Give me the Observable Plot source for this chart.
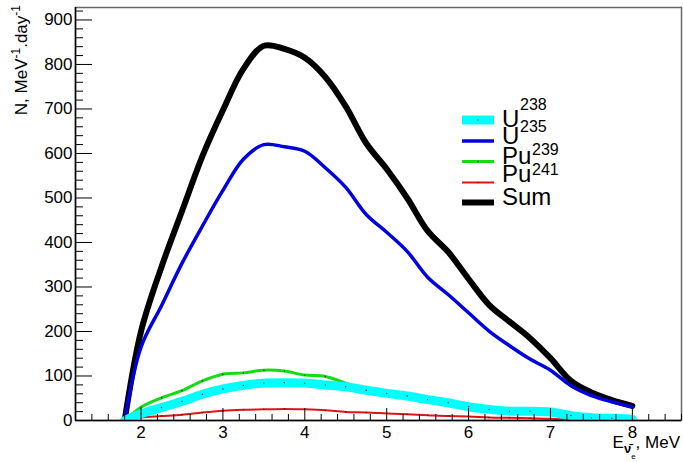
<!DOCTYPE html>
<html>
<head>
<meta charset="utf-8">
<script src="https://cdn.jsdelivr.net/npm/d3@7"></script>
<script src="https://cdn.jsdelivr.net/npm/@observablehq/plot@0.6"></script>
<style>
  html, body { margin: 0; padding: 0; background: white; }
  svg { display: block; }
</style>
</head>
<body>
<div id="chart"></div>
<script>
// ---- data ----
const energy = [1.8, 2.0, 2.25, 2.5, 2.75, 3.0, 3.25, 3.5, 3.75, 4.0, 4.25, 4.5, 4.75, 5.0, 5.25, 5.5, 5.75, 6.0, 6.25, 6.5, 6.75, 7.0, 7.25, 7.5, 7.75, 8.0];
const u238  = [0, 15, 29, 43, 59, 71, 79, 84, 85, 84, 80, 76, 68, 61, 55, 47, 40, 31, 25, 21, 21, 19, 11, 6, 5, 3];
const u235  = [0, 165, 258, 353, 437, 517, 587, 620, 615, 605, 568, 524, 463, 423, 380, 322, 283, 242, 201, 168, 138, 113, 78, 56, 42, 30];
const pu239 = [0, 30, 51, 67, 89, 104, 107, 113, 111, 102, 99, 84, 66, 58, 52, 45, 38, 30, 24, 20, 19, 17, 9, 4, 2, 1];
const pu241 = [0, 7, 10, 13, 18, 22, 24, 25, 26, 25, 23, 19, 18, 16, 14, 12, 10, 9, 7, 6, 5, 4, 2, 1, 0.5, 0];
const total = [0, 200, 345, 470, 594, 697, 790, 842, 835, 815, 772, 706, 623, 565, 500, 426, 379, 318, 260, 222, 185, 140, 89, 63, 46, 33];

const xMajor = [2, 3, 4, 5, 6, 7, 8];
const yMajor = [0, 100, 200, 300, 400, 500, 600, 700, 800, 900];
const xDomain = [1.2, 8.6];
const yDomain = [0, 928];

const series = [
  {key: "Sum",   values: total, color: "#000000", width: 6,   dots: false},
  {key: "U235",  values: u235,  color: "#0000e0", width: 3.5, dots: false},
  {key: "Pu239", values: pu239, color: "#14dc14", width: 3,   dots: true},
  {key: "Pu241", values: pu241, color: "#e01414", width: 2,   dots: true},
  {key: "U238",  values: u238,  color: "#00ffff", width: 9,   dots: true}
];

const xMinor = d3.range(12, 87, 2).map(v => v / 10).filter(v => !xMajor.includes(v));
const yMinor = d3.range(0, 921, 20).filter(v => v % 100 !== 0);

const W = 683, H = 462, mL = 75, mR = 2, mT = 7, mB = 42;
const innerW = W - mL - mR, innerH = H - mT - mB;

const marks = [Plot.frame({stroke: "#666", strokeWidth: 1.5})];
for (const s of series) {
  const rows = energy.map((e, i) => ({e, v: s.values[i]}));
  marks.push(Plot.line(rows, {x: "e", y: "v", stroke: s.color, strokeWidth: s.width, curve: "catmull-rom", clip: true}));
  if (s.dots) marks.push(Plot.dot(rows.slice(1), {x: "e", y: "v", r: 0.7, fill: "#222", stroke: "none"}));
}
marks.push(
  Plot.ruleY([yDomain[0]], {stroke: "black", strokeWidth: 1.5}),
  Plot.ruleX([xDomain[0]], {stroke: "black", strokeWidth: 1.5}),
  Plot.tickY(yMajor, {y: d => d, stroke: "black", strokeWidth: 1, insetRight: innerW - 17}),
  Plot.tickY(yMinor, {y: d => d, stroke: "black", strokeWidth: 1, insetRight: innerW - 8}),
  Plot.tickX(xMajor, {x: d => d, stroke: "black", strokeWidth: 1, insetTop: innerH - 12}),
  Plot.tickX(xMinor, {x: d => d, stroke: "black", strokeWidth: 1, insetTop: innerH - 6}),
  Plot.axisX(xMajor, {tickSize: 0, tickPadding: 5, label: null, fill: "black"}),
  Plot.axisY(yMajor, {tickSize: 0, tickPadding: 3, label: null, fill: "black"})
);

const svg = Plot.plot({
  width: W, height: H,
  marginLeft: mL, marginRight: mR, marginTop: mT, marginBottom: mB,
  x: {domain: xDomain},
  y: {domain: yDomain},
  style: {fontFamily: "'Liberation Sans', Arial, sans-serif", fontSize: "17px", background: "white", color: "black", overflow: "visible"},
  marks
});

const sel = d3.select(svg);
const font = "'Liberation Sans', Arial, sans-serif";

// y axis title
const yt = sel.append("text")
  .attr("transform", "translate(27,5) rotate(-90)")
  .attr("text-anchor", "end").attr("font-family", font).attr("font-size", 17).attr("fill", "black");
yt.append("tspan").text("N, MeV");
yt.append("tspan").attr("font-size", 12).attr("dy", -7).text("-1");
yt.append("tspan").attr("dy", 7).text(".day");
yt.append("tspan").attr("font-size", 12).attr("dy", -7).text("-1");

// x axis title
const xt = sel.append("text")
  .attr("x", 680).attr("y", 448).attr("text-anchor", "end")
  .attr("font-family", font).attr("font-size", 17).attr("fill", "black");
xt.append("tspan").text("E");
xt.append("tspan").attr("font-size", 13).attr("font-weight", "bold").attr("dy", 5).text("ν̄");
xt.append("tspan").attr("font-size", 8).attr("dy", 6).text("e");
xt.append("tspan").attr("dy", -11).text(", MeV");

// legend
const legend = [
  {key: "U238",  base: "U",   sup: "238", lineY: 120,   baseY: 127,   supX: 520, supY: 110,   color: "#00ffff", width: 9,   dot: true},
  {key: "U235",  base: "U",   sup: "235", lineY: 141,   baseY: 143.5, supX: 520, supY: 131.5, color: "#0000e0", width: 3.5, dot: false},
  {key: "Pu239", base: "Pu",  sup: "239", lineY: 161.5, baseY: 163.5, supX: 532, supY: 155,   color: "#14dc14", width: 3,   dot: true},
  {key: "Pu241", base: "Pu",  sup: "241", lineY: 182.5, baseY: 181.5, supX: 532, supY: 175,   color: "#e01414", width: 2,   dot: true},
  {key: "Sum",   base: "Sum", sup: null,  lineY: 202.5, baseY: 204.5, supX: 0,   supY: 0,     color: "#000000", width: 6,   dot: false}
];
const lg = sel.append("g").attr("text-anchor", "start");
for (const l of legend) {
  lg.append("line").attr("x1", 462).attr("x2", 494).attr("y1", l.lineY).attr("y2", l.lineY)
    .attr("stroke", l.color).attr("stroke-width", l.width);
  if (l.dot) lg.append("circle").attr("cx", 478).attr("cy", l.lineY).attr("r", 0.7).attr("fill", "#222");
  lg.append("text").attr("x", 502).attr("y", l.baseY).attr("text-anchor", "start").attr("font-family", font).attr("font-size", 24).attr("fill", "black").text(l.base);
  if (l.sup) lg.append("text").attr("x", l.supX).attr("y", l.supY).attr("text-anchor", "start").attr("font-family", font).attr("font-size", 16).attr("fill", "black").text(l.sup);
}

document.getElementById("chart").appendChild(svg);
</script>
</body>
</html>
